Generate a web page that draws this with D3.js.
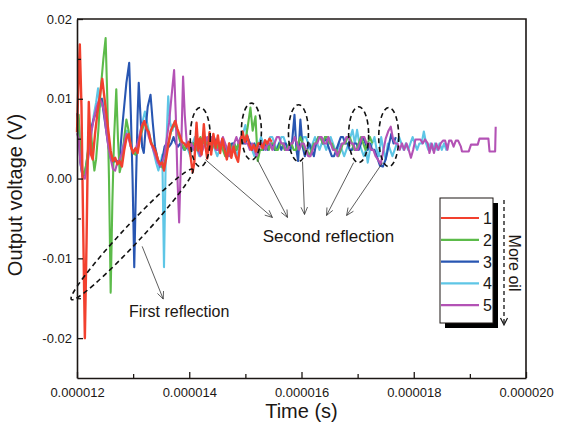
<!DOCTYPE html>
<html>
<head>
<meta charset="utf-8">
<script src="https://cdn.jsdelivr.net/npm/d3@7"></script>
<style>
  body { margin: 0; background: #fff; }
  svg { display: block; font-family: "Liberation Sans", Arial, sans-serif; }
</style>
</head>
<body>
<div id="chart"></div>
<script>
// traces: [time in µs, voltage in mV]
const trace1 = [[12.00,5.8],[12.03,13],[12.05,16.8],[12.08,9],[12.11,-6],[12.14,-20],[12.17,-8],[12.19,2],[12.21,9.6],[12.25,3],[12.28,2.4],[12.32,5.5],[12.36,8],[12.40,10],[12.45,12.5],[12.50,9.5],[12.55,6.5],[12.60,3.5],[12.64,2.2],[12.68,2.6],[12.72,1.8],[12.76,2.2],[12.80,1.5],[12.84,3.5],[12.88,5],[12.92,5.6],[12.96,4],[13.00,3.2],[13.04,3.8],[13.08,3.2],[13.12,5],[13.16,6.6],[13.20,7.2],[13.24,6.2],[13.28,5.8],[13.32,4.4],[13.36,4],[13.40,3.4],[13.44,2.4],[13.48,1.8],[13.52,2],[13.55,1],[13.59,2.6],[13.63,4.4],[13.67,6],[13.71,6.6],[13.75,7.2],[13.79,6.2],[13.83,5.4],[13.87,4.6],[13.91,4.4],[13.95,4],[13.99,4.6],[14.02,3],[14.06,0.8],[14.09,2],[14.13,7],[14.16,3.5],[14.19,5],[14.22,3],[14.26,6.8],[14.29,4],[14.32,2.5],[14.36,5.8],[14.39,3],[14.43,5.6],[14.47,3.8],[14.51,5.4],[14.55,3.2],[14.59,5],[14.63,3.6],[14.67,2.4],[14.71,4.4],[14.75,2.6],[14.79,4],[14.83,2.8],[14.87,2.1],[14.91,4.4],[14.95,5.9],[14.99,4.6],[15.03,5.4],[15.07,4.2],[15.11,3.6],[15.15,4.2],[15.19,3.4],[15.23,4.4],[15.27,4.4],[15.31,3.8],[15.35,4.8],[15.39,4.4],[15.43,5],[15.47,4.6]];

const trace2 = [[12.00,6],[12.03,8],[12.06,3],[12.09,1],[12.13,0.5],[12.17,2],[12.21,4.5],[12.25,6],[12.28,3],[12.31,1],[12.34,2.4],[12.38,6],[12.42,11],[12.47,15],[12.51,17.6],[12.54,10],[12.57,0],[12.60,-14.3],[12.63,-3],[12.66,5],[12.70,11.2],[12.73,5],[12.76,0.8],[12.80,2],[12.84,5],[12.88,7.4],[12.92,6],[12.96,4],[13.00,3.2],[13.04,3],[13.08,3.6],[13.12,5.2],[13.16,6],[13.20,7],[13.24,6.6],[13.28,5.6],[13.32,4.6],[13.36,3.8],[13.40,3],[13.44,2.4],[13.48,1.8],[13.52,1.4],[13.56,2],[13.60,3.4],[13.64,4.8],[13.68,6],[13.72,6.8],[13.76,6.4],[13.80,5.6],[13.84,4.6],[13.88,4.2],[13.92,3.6],[13.96,4.2],[14.00,3.6],[14.04,4.4],[14.08,4.4],[14.12,3.6],[14.16,4.4],[14.20,5.2],[14.24,4.4],[14.28,5.2],[14.32,4.4],[14.36,5.2],[14.40,3.6],[14.44,4.4],[14.48,4.4],[14.52,3.6],[14.56,4.4],[14.60,3.6],[14.64,2.8],[14.68,3.6],[14.72,4.4],[14.76,3.6],[14.80,4.4],[14.84,3.6],[14.88,4.4],[14.92,4.4],[14.96,5.2],[15.00,4.8],[15.04,6.4],[15.09,8.9],[15.13,6],[15.18,7.8],[15.22,2.2],[15.26,3.6],[15.30,3.6],[15.34,4.4],[15.38,4.4],[15.42,3.6],[15.46,4.4],[15.50,4.4],[15.54,3.6],[15.58,3.6],[15.62,4.4],[15.66,4.4],[15.70,3.6],[15.74,3.6],[15.78,4.4],[15.82,4.4],[15.86,3.6],[15.90,3.6],[15.94,4.4],[15.98,5.2],[16.02,4.4],[16.06,3.6],[16.10,3.6],[16.14,2.8],[16.18,3.6],[16.22,4.4],[16.26,4.4],[16.30,5.2],[16.34,5.2],[16.38,4.4],[16.42,5.2],[16.46,5.2],[16.50,4.4],[16.54,4.4],[16.58,3.6],[16.62,3.6],[16.66,2.8],[16.70,3.6],[16.74,4.4],[16.78,4.4],[16.82,5.2],[16.86,5.2],[16.90,4.4],[16.94,3.6],[16.98,3.6],[17.02,4.4],[17.06,5.2],[17.10,4.4],[17.14,3.6],[17.18,4.4],[17.22,5.2],[17.26,4.4]];

const trace3 = [[12.00,8.2],[12.03,6],[12.06,2],[12.10,0.2],[12.14,0.5],[12.18,2.5],[12.22,4.5],[12.26,6.5],[12.30,7.5],[12.35,8.5],[12.40,9.5],[12.44,10],[12.48,8],[12.52,6],[12.56,4],[12.60,2.5],[12.64,2],[12.68,2.4],[12.72,2],[12.76,2.5],[12.80,6],[12.84,9],[12.88,12],[12.93,14.5],[12.96,8],[12.99,0],[13.02,-11.1],[13.05,-1],[13.08,8],[13.10,12],[13.13,8],[13.16,4],[13.19,3.2],[13.22,6],[13.26,9],[13.31,10.5],[13.35,7],[13.39,4],[13.44,2.4],[13.48,1.5],[13.52,2.4],[13.56,4],[13.60,4.4],[13.64,4],[13.68,4.4],[13.72,5.2],[13.76,4.4],[13.80,4],[13.84,4.4],[13.88,4],[13.92,3.6],[13.96,4],[14.00,4],[14.04,3.6],[14.08,4.4],[14.12,4],[14.16,3.6],[14.20,4.4],[14.24,4.4],[14.28,5.2],[14.32,4.4],[14.36,3.6],[14.40,4.4],[14.44,5.2],[14.48,4.4],[14.52,3.6],[14.56,4.4],[14.60,4.4],[14.64,3.6],[14.68,2.8],[14.72,3.6],[14.76,4.4],[14.80,4.4],[14.84,3.6],[14.88,4.4],[14.92,5.2],[14.96,4.4],[15.00,4.4],[15.04,5.2],[15.08,4.4],[15.12,3.6],[15.16,4.4],[15.20,3.6],[15.24,4.4],[15.28,4.4],[15.32,3.6],[15.36,4.4],[15.40,3.6],[15.44,4.4],[15.48,4.4],[15.52,3.6],[15.56,3.6],[15.60,4.4],[15.64,3.6],[15.68,4.4],[15.72,4.4],[15.76,3.6],[15.80,3.6],[15.83,4.4],[15.85,6],[15.875,8],[15.91,3.6],[15.94,2.2],[15.98,7.4],[16.02,4],[16.06,2.8],[16.10,3.6],[16.14,4.4],[16.18,3.6],[16.22,2.8],[16.26,4.4],[16.30,5.2],[16.34,5.2],[16.38,4.4],[16.42,5.2],[16.46,4.4],[16.50,3.6],[16.54,2.8],[16.58,2.8],[16.62,3.6],[16.66,4.4],[16.70,5.2],[16.74,5.2],[16.78,4.4],[16.82,4.4],[16.86,3.6],[16.90,3.6],[16.94,4.4],[16.98,4.4],[17.02,3.6],[17.06,4.4],[17.10,5.2],[17.14,4.4],[17.18,3.6],[17.22,4.4],[17.26,3.6],[17.30,3.6],[17.34,2.8],[17.40,1.6],[17.45,1.5],[17.50,2.4],[17.55,4],[17.60,5.6],[17.64,4.4],[17.68,5.2]];

const trace4 = [[12.00,6.5],[12.03,7.5],[12.06,4],[12.10,1],[12.14,0.5],[12.18,2],[12.22,4],[12.26,6],[12.30,8],[12.34,9.5],[12.375,11.3],[12.41,9],[12.45,10],[12.49,8.5],[12.53,6],[12.57,4],[12.61,2.5],[12.65,2],[12.69,2.4],[12.73,1.8],[12.77,2.4],[12.81,3.6],[12.85,5],[12.89,6],[12.93,5.6],[12.97,4],[13.01,3.2],[13.05,3.4],[13.09,4.4],[13.13,6],[13.17,7.2],[13.21,8.4],[13.25,7],[13.29,5.6],[13.33,4.4],[13.37,3.2],[13.41,2],[13.45,1],[13.49,2],[13.52,3],[13.55,-11.1],[13.58,2],[13.625,10.3],[13.66,7],[13.70,6],[13.74,7.2],[13.78,6],[13.82,5.2],[13.86,4.4],[13.90,3.6],[13.94,4.4],[13.98,3.6],[14.02,2.8],[14.06,4.4],[14.10,5.2],[14.14,3.6],[14.18,2.8],[14.22,4.4],[14.26,5.2],[14.30,4.4],[14.34,3.6],[14.38,5.2],[14.42,4.4],[14.46,3.6],[14.50,2.8],[14.54,3.6],[14.58,4.4],[14.62,4.4],[14.66,3.6],[14.70,2.8],[14.74,3.6],[14.78,4.4],[14.82,3.6],[14.86,2.8],[14.90,4.4],[14.94,5.2],[15.00,6.7],[15.04,5.2],[15.08,4.4],[15.12,3.6],[15.16,2.8],[15.20,3.6],[15.24,4.4],[15.28,5.2],[15.32,4.4],[15.36,3.6],[15.40,4.4],[15.44,5.2],[15.48,5.2],[15.52,4.4],[15.56,3.6],[15.60,4.4],[15.64,5.2],[15.68,5.2],[15.72,4.4],[15.76,3.6],[15.80,3.6],[15.84,4.4],[15.88,5.2],[15.92,4.4],[15.96,3.6],[16.00,4.4],[16.04,5.2],[16.08,5.2],[16.12,4.4],[16.16,3.6],[16.20,4.4],[16.24,5.2],[16.28,4.4],[16.32,3.6],[16.36,4.4],[16.40,4.4],[16.44,3.6],[16.48,4.4],[16.52,5.2],[16.56,4.4],[16.60,3.6],[16.64,3.6],[16.68,4.4],[16.72,3.6],[16.76,2.8],[16.80,3.6],[16.84,4.4],[16.87,5.2],[16.91,6.1],[16.95,4.4],[16.99,6.1],[17.03,4.4],[17.07,3.6],[17.11,2.8],[17.15,3.6],[17.18,2],[17.22,3.6],[17.26,4.4],[17.30,5.2],[17.34,3.6],[17.38,2.8],[17.42,5.2],[17.46,3.6],[17.50,2.4],[17.54,4.4],[17.58,3.6],[17.62,2.8],[17.66,3.6],[17.70,4.4],[17.74,5.2],[17.78,4.4],[17.82,3.6],[17.86,4.4],[17.90,3.6],[17.94,4.4],[17.98,5.2],[18.02,4.4],[18.06,3.6],[18.10,4.4],[18.14,4.4],[18.18,5.9],[18.22,4.4],[18.26,3.6],[18.30,4.4],[18.34,3.6],[18.38,4.4],[18.42,3.6],[18.46,4.4],[18.50,3.6],[18.54,4.4],[18.58,3.6],[18.61,4.4]];

const trace5 = [[12.00,5.7],[12.03,5],[12.06,2],[12.10,0.2],[12.14,0],[12.18,1.5],[12.22,3.5],[12.26,6],[12.30,7.5],[12.35,9],[12.40,10],[12.44,9.5],[12.48,8.5],[12.52,6],[12.56,4],[12.60,2.5],[12.64,1.2],[12.68,1],[12.72,2],[12.76,2.4],[12.80,3.2],[12.84,4.4],[12.88,5.6],[12.92,5],[12.96,4],[13.00,3.4],[13.04,3.6],[13.08,4.4],[13.12,5.6],[13.16,6.8],[13.20,7.2],[13.24,6.4],[13.28,5.2],[13.32,4.4],[13.36,3.6],[13.40,2.8],[13.44,2],[13.48,1.6],[13.52,2],[13.56,3],[13.60,5],[13.64,7],[13.68,10],[13.73,13.6],[13.76,8],[13.79,0],[13.82,-5.5],[13.85,2],[13.89,12.8],[13.92,8],[13.96,4],[14.00,3.6],[14.04,4.4],[14.08,3.6],[14.12,4.4],[14.16,3.6],[14.20,2.8],[14.24,3.6],[14.28,4.4],[14.32,5.2],[14.36,4.4],[14.40,5.2],[14.44,4.4],[14.48,3.6],[14.52,3.6],[14.56,4.4],[14.60,5.2],[14.64,4.4],[14.68,3.6],[14.72,2.8],[14.76,3.6],[14.80,4.4],[14.84,5.2],[14.88,4.4],[14.92,5.2],[14.96,5.2],[15.00,4.4],[15.04,4.4],[15.08,3.6],[15.12,4.4],[15.16,3.6],[15.20,2.8],[15.24,3.6],[15.28,4.4],[15.32,4.4],[15.36,3.6],[15.40,4.4],[15.44,4.4],[15.48,3.6],[15.52,4.4],[15.56,5.2],[15.60,5.2],[15.64,4.4],[15.68,4.4],[15.72,3.6],[15.76,3.6],[15.80,4.4],[15.84,4.4],[15.88,5.2],[15.92,4.4],[15.96,3.6],[16.00,4.4],[16.04,4.4],[16.08,3.6],[16.12,2.8],[16.16,2.8],[16.20,3.6],[16.24,4.4],[16.28,4.4],[16.32,5.2],[16.36,5.2],[16.40,4.4],[16.44,4.4],[16.48,5.2],[16.52,4.4],[16.56,3.6],[16.60,3.6],[16.64,2.8],[16.68,3.6],[16.72,4.4],[16.76,4.4],[16.80,5.2],[16.84,5.2],[16.88,4.4],[16.92,4.4],[16.96,3.6],[17.00,3.6],[17.04,4.4],[17.08,5.2],[17.12,5.2],[17.16,4.4],[17.20,4.4],[17.24,3.6],[17.28,3.6],[17.32,2.8],[17.36,2.4],[17.41,1.8],[17.45,3.2],[17.50,5],[17.55,6],[17.59,6.5],[17.63,5],[17.67,4.4],[17.71,4.4],[17.75,3.6],[17.79,4.4],[17.83,3.6],[17.87,4.4],[17.91,3.6],[17.95,2.6],[17.99,3.6],[18.03,4.9],[18.08,4.9],[18.12,4.9],[18.16,4.4],[18.20,4.9],[18.25,4.4],[18.28,3.2],[18.32,4.4],[18.36,3.2],[18.40,4.4],[18.44,3.6],[18.48,4.4],[18.52,4.75],[18.56,4.75],[18.60,3.6],[18.63,4.75],[18.67,4.75],[18.71,4],[18.75,4.75],[18.79,4.75],[18.84,4],[18.86,3.4],[18.92,3.4],[18.98,3.4],[19.02,4.25],[19.08,4.25],[19.14,4.25],[19.17,5],[19.22,5],[19.28,5],[19.33,5],[19.35,3.4],[19.40,3.4],[19.45,3.4],[19.46,6.5]];

const seriesNames = ["1", "2", "3", "4", "5"];
const seriesData = [trace1, trace2, trace3, trace4, trace5];
const seriesColors = ["#f2402e", "#5cbb4a", "#2856b2", "#5ec6e6", "#b352b5"];
const drawOrder = [3, 2, 1, 4, 0];

const xTicks = [0.000012, 0.000014, 0.000016, 0.000018, 0.000020];
const xMinorTicks = [0.000013, 0.000015, 0.000017, 0.000019];
const yTicks = [-0.02, -0.01, 0, 0.01, 0.02];
const yMinorTicks = [-0.015, -0.005, 0.005, 0.015];

// annotation anchors, also in µs / mV
const secondRings = [[14.196,5.2,3.7],[15.107,5.9,3.56],[15.946,5.7,3.56],[17.018,5.5,3.5],[17.554,5.2,3.7]];
const secondArrows = [[14.286,2.375,15.482,-4.875],[15.214,2.375,15.75,-4.875],[16.018,2.125,16.054,-4.5],[16.929,2.0,16.446,-4.625],[17.446,2.0,16.804,-4.625]];
const firstArrow = [13.161,-8.5,13.536,-15.1];
const firstRing = [12.982,-7.0];

const margin = {top: 19, right: 37, bottom: 45, left: 77};
const width = 563 - margin.left - margin.right;
const height = 423 - margin.top - margin.bottom;
const ink = "#1c1714";

const root = d3.select("#chart")
    .append("svg")
    .attr("width", 563)
    .attr("height", 423);

const svg = root.append("g")
    .attr("transform", `translate(${margin.left},${margin.top})`);

const x = d3.scaleLinear().domain([0.000012, 0.000020]).range([0, width]);
const y = d3.scaleLinear().domain([-0.025, 0.02]).range([height, 0]);
const px = t => x(t * 1e-6);
const py = v => y(v * 1e-3);

const line = d3.line()
    .x(d => px(d[0]))
    .y(d => py(d[1]));

drawOrder.forEach(i => {
    svg.append("path")
        .datum(seriesData[i])
        .attr("fill", "none")
        .attr("stroke", seriesColors[i])
        .attr("stroke-width", i === 0 ? 2.4 : 2.1)
        .attr("stroke-linejoin", "round")
        .attr("d", line);
});

// axes, ticks pointing inward
svg.append("g")
    .attr("transform", `translate(0,${height})`)
    .call(d3.axisBottom(x).tickValues(xTicks).tickSizeInner(-6).tickSizeOuter(0)
        .tickPadding(10).tickFormat(d => d.toFixed(6)));
svg.append("g")
    .attr("transform", `translate(0,${height})`)
    .call(d3.axisBottom(x).tickValues(xMinorTicks).tickSizeInner(-4).tickSizeOuter(0).tickFormat(""))
    .select(".domain").remove();

svg.append("g")
    .call(d3.axisLeft(y).tickValues(yTicks).tickSizeInner(-6).tickSizeOuter(0)
        .tickPadding(5).tickFormat(d => d.toFixed(2)));
svg.append("g")
    .call(d3.axisLeft(y).tickValues(yMinorTicks).tickSizeInner(-4).tickSizeOuter(0).tickFormat(""))
    .select(".domain").remove();

svg.selectAll(".domain").attr("stroke", ink).attr("stroke-width", 1.6);
svg.selectAll(".tick line").attr("stroke", ink).attr("stroke-width", 1.3);
svg.selectAll(".tick text")
    .attr("fill", ink)
    .style("font-size", "13px")
    .style("font-family", "Liberation Sans, Arial, sans-serif");

// frame top and right
svg.append("path")
    .attr("d", `M0,0H${width}V${height}`)
    .attr("fill", "none")
    .attr("stroke", ink)
    .attr("stroke-width", 1.6);

svg.append("text")
    .attr("x", width / 2)
    .attr("y", height + 40)
    .attr("text-anchor", "middle")
    .attr("fill", ink)
    .style("font-size", "20px")
    .text("Time (s)");

svg.append("text")
    .attr("transform", "rotate(-90)")
    .attr("x", -176)
    .attr("y", -55)
    .attr("text-anchor", "middle")
    .attr("fill", ink)
    .style("font-size", "20px")
    .text("Output voltage (V)");

// annotations
const note = svg.append("g");

secondRings.forEach(r => {
    note.append("ellipse")
        .attr("cx", px(r[0]))
        .attr("cy", py(r[1]))
        .attr("rx", 10)
        .attr("ry", py(r[1] - r[2]) - py(r[1]))
        .attr("fill", "none")
        .attr("stroke", "#111")
        .attr("stroke-width", 1.6)
        .attr("stroke-dasharray", "5,3.5");
});

note.append("ellipse")
    .attr("transform", `translate(${px(firstRing[0])},${py(firstRing[1])}) rotate(-47)`)
    .attr("rx", 89)
    .attr("ry", 9)
    .attr("fill", "none")
    .attr("stroke", "#111")
    .attr("stroke-width", 1.6)
    .attr("stroke-dasharray", "5,3.5");

function arrow(a) {
    const x1 = px(a[0]), y1 = py(a[1]), x2 = px(a[2]), y2 = py(a[3]);
    const ang = Math.atan2(y2 - y1, x2 - x1);
    const len = 8, spread = 0.42;
    note.append("line")
        .attr("x1", x1).attr("y1", y1).attr("x2", x2).attr("y2", y2)
        .attr("stroke", "#333").attr("stroke-width", 0.8);
    note.append("path")
        .attr("d", `M${x2 - len * Math.cos(ang - spread)},${y2 - len * Math.sin(ang - spread)}L${x2},${y2}L${x2 - len * Math.cos(ang + spread)},${y2 - len * Math.sin(ang + spread)}`)
        .attr("fill", "none").attr("stroke", "#333").attr("stroke-width", 0.8);
}
secondArrows.forEach(arrow);
arrow(firstArrow);

note.append("text")
    .attr("x", px(16.48))
    .attr("y", py(-7.9))
    .attr("text-anchor", "middle")
    .attr("fill", ink)
    .style("font-size", "17px")
    .text("Second reflection");

note.append("text")
    .attr("x", px(13.82))
    .attr("y", py(-17.4))
    .attr("text-anchor", "middle")
    .attr("fill", ink)
    .style("font-size", "16px")
    .text("First reflection");

// legend
const legend = root.append("g");
legend.append("rect")
    .attr("x", 445).attr("y", 203).attr("width", 53).attr("height", 125)
    .attr("fill", "#000");
legend.append("rect")
    .attr("x", 440).attr("y", 198).attr("width", 53).attr("height", 125)
    .attr("fill", "#fff").attr("stroke", ink).attr("stroke-width", 1);

seriesNames.forEach((name, i) => {
    const ly = 218 + i * 21.8;
    legend.append("line")
        .attr("x1", 441).attr("x2", 479).attr("y1", ly).attr("y2", ly)
        .attr("stroke", seriesColors[i]).attr("stroke-width", 2.2);
    legend.append("text")
        .attr("x", 483).attr("y", ly + 6)
        .attr("fill", ink)
        .style("font-size", "16px")
        .text(name);
});

legend.append("line")
    .attr("x1", 504).attr("x2", 504).attr("y1", 200).attr("y2", 324)
    .attr("stroke", "#111").attr("stroke-width", 1.3)
    .attr("stroke-dasharray", "4,3");
legend.append("path")
    .attr("d", "M500.5,318L504,325L507.5,318")
    .attr("fill", "none").attr("stroke", "#111").attr("stroke-width", 1.2);
legend.append("text")
    .attr("transform", "translate(509,263) rotate(90)")
    .attr("text-anchor", "middle")
    .attr("fill", ink)
    .style("font-size", "16px")
    .text("More oil");
</script>
</body>
</html>
